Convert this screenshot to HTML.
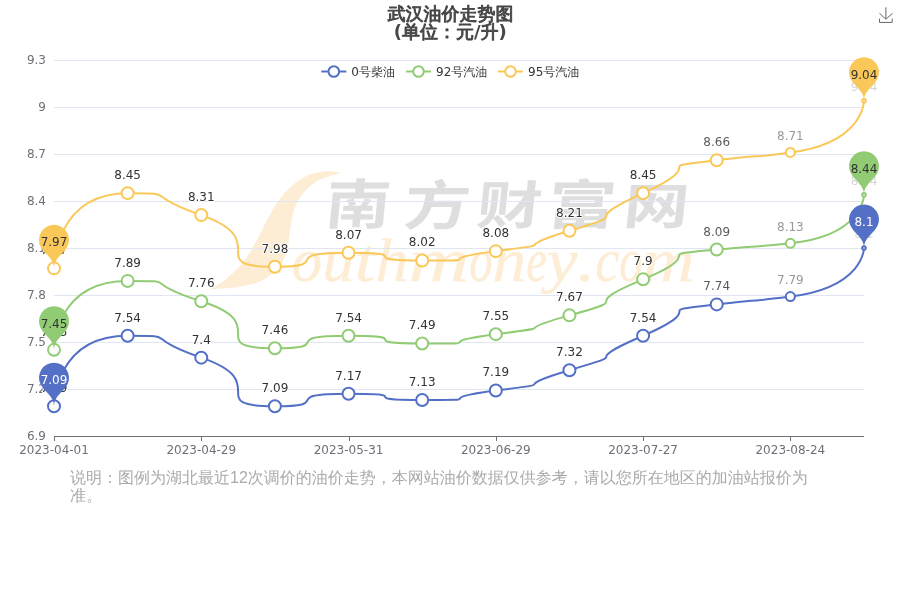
<!DOCTYPE html>
<html><head><meta charset="utf-8"><title>武汉油价走势图</title>
<style>html,body{margin:0;padding:0;background:#fff}body{width:900px;height:600px;overflow:hidden;position:relative}svg{display:block;position:absolute;left:0;top:0}text{font-family:"DejaVu Sans", "Liberation Sans", "WenQuanYi Zen Hei", "Noto Sans CJK SC", sans-serif;font-size:12px}.tt{font-size:18px;stroke:#464646;stroke-width:0.95px;stroke-linejoin:round}.tb{font-weight:bold;stroke:none}.wm1{font-family:"Liberation Serif","DejaVu Serif",serif;font-style:italic}.wm2{font-family:"Noto Sans CJK SC","WenQuanYi Zen Hei",sans-serif;font-weight:700}</style></head><body>
<svg width="900" height="600" viewBox="0 0 900 600">
<rect width="900" height="600" fill="#fff"/>
<g role="img" aria-label="Southmoney.com 南方财富网"><title>Southmoney.com 南方财富网</title>
<path d="M340.6 172.8C339 172.5 334.7 171.4 331.2 171.2C327.8 171.1 323.8 171.3 320 171.9C316.2 172.5 312.5 173.4 308.8 175C305 176.6 301 178.8 297.5 181.2C294 183.8 290.6 186.9 287.5 190C284.4 193.1 281.5 196.2 278.8 200C276 203.8 273.8 208.1 271.2 212.5C268.8 216.9 266.1 221.7 263.8 226.2C261.4 230.8 259.3 235.7 257 240C254.7 244.3 252.4 248.1 250 252C247.6 255.9 245.2 259.9 242.5 263.2C239.8 266.6 236.9 269.1 233.8 272C230.6 274.9 226.9 278.3 223.8 280.8C220.6 283.2 217.7 285 215 286.5C212.3 288 208.8 289 207.5 289.5C210.4 289.3 220 288.7 225 288.2C230 287.8 233.3 287.6 237.5 287C241.7 286.4 246.2 285.4 250 284.5C253.8 283.6 256.7 282.9 260 281.4C263.3 279.9 267.2 277.7 270 275.8C272.8 273.8 274.9 271.8 277 269.5C279.1 267.2 281 264.7 282.5 262C284 259.3 285.3 256.2 286.2 253.2C287.2 250.3 287.7 247.7 288.3 244.5C288.9 241.3 289.2 236.8 289.6 234C290 231.2 290.2 230.2 290.6 227.5C291 224.8 291.2 220.8 291.9 217.5C292.6 214.2 293.6 210.8 295 207.5C296.4 204.2 298.1 200.4 300 197.5C301.9 194.6 303.8 192.5 306.2 190C308.8 187.5 311.9 184.6 315 182.5C318.1 180.4 321.2 178.9 325 177.5C328.8 176.1 334.9 174.8 337.5 174C340.1 173.2 340.1 173 340.6 172.8Z" fill="#feedd5"/>
<text class="wm1" y="281.3" fill="#feedd5" stroke="#feedd5" stroke-width="0.35" style="font-size:62px"><tspan x="291.8" textLength="30.4" lengthAdjust="spacingAndGlyphs">o</tspan><tspan x="322.2" textLength="32.3" lengthAdjust="spacingAndGlyphs">u</tspan><tspan x="354.5" textLength="21" lengthAdjust="spacingAndGlyphs">t</tspan><tspan x="375.5" textLength="33" lengthAdjust="spacingAndGlyphs">h</tspan><tspan x="408.5" textLength="60.7" lengthAdjust="spacingAndGlyphs">m</tspan><tspan x="469.2" textLength="23.3" lengthAdjust="spacingAndGlyphs">o</tspan><tspan x="492.5" textLength="33.7" lengthAdjust="spacingAndGlyphs">n</tspan><tspan x="526.2" textLength="20.5" lengthAdjust="spacingAndGlyphs">e</tspan><tspan x="546.7" textLength="30.8" lengthAdjust="spacingAndGlyphs">y</tspan><tspan x="577.5" textLength="17.9" lengthAdjust="spacingAndGlyphs">.</tspan><tspan x="595.2" textLength="24.1" lengthAdjust="spacingAndGlyphs">c</tspan><tspan x="619.3" textLength="23.2" lengthAdjust="spacingAndGlyphs">o</tspan><tspan x="642.5" textLength="52" lengthAdjust="spacingAndGlyphs">m</tspan></text>
<text class="wm2" transform="matrix(1.255 0 -0.1004 1.042 323.7 223.8)" fill="#dfdede" style="font-size:52px">南</text>
<text class="wm2" transform="matrix(1.27 0 -0.1016 1.031 402.5 224.8)" fill="#dfdede" style="font-size:52px">方</text>
<text class="wm2" transform="matrix(1.253 0 -0.1002 0.99 475.2 223.5)" fill="#dfdede" style="font-size:52px">财</text>
<text class="wm2" transform="matrix(1.311 0 -0.1049 1.022 546.1 223.7)" fill="#dfdede" style="font-size:52px">富</text>
<text class="wm2" transform="matrix(1.255 0 -0.1004 0.944 622 223.7)" fill="#dfdede" style="font-size:52px">网</text>
</g>
<g stroke="#E0E6F1" stroke-width="1" shape-rendering="crispEdges">
<line x1="54" y1="60.5" x2="864" y2="60.5"/>
<line x1="54" y1="107.5" x2="864" y2="107.5"/>
<line x1="54" y1="154.5" x2="864" y2="154.5"/>
<line x1="54" y1="201.5" x2="864" y2="201.5"/>
<line x1="54" y1="248.5" x2="864" y2="248.5"/>
<line x1="54" y1="295.5" x2="864" y2="295.5"/>
<line x1="54" y1="342.5" x2="864" y2="342.5"/>
<line x1="54" y1="389.5" x2="864" y2="389.5"/>
</g>
<g stroke="#6E7079" stroke-width="1" shape-rendering="crispEdges">
<line x1="54" y1="436.5" x2="864" y2="436.5"/>
<line x1="54.5" y1="436" x2="54.5" y2="441"/>
<line x1="201.5" y1="436" x2="201.5" y2="441"/>
<line x1="349.5" y1="436" x2="349.5" y2="441"/>
<line x1="496.5" y1="436" x2="496.5" y2="441"/>
<line x1="643.5" y1="436" x2="643.5" y2="441"/>
<line x1="790.5" y1="436" x2="790.5" y2="441"/>
</g>
<g fill="#6E7079">
<text x="46" y="64.4" text-anchor="end">9.3</text>
<text x="46" y="111.4" text-anchor="end">9</text>
<text x="46" y="158.4" text-anchor="end">8.7</text>
<text x="46" y="205.4" text-anchor="end">8.4</text>
<text x="46" y="252.4" text-anchor="end">8.1</text>
<text x="46" y="299.4" text-anchor="end">7.8</text>
<text x="46" y="346.4" text-anchor="end">7.5</text>
<text x="46" y="393.4" text-anchor="end">7.2</text>
<text x="46" y="440.4" text-anchor="end">6.9</text>
<text x="54" y="454.2" text-anchor="middle">2023-04-01</text>
<text x="201.27" y="454.2" text-anchor="middle">2023-04-29</text>
<text x="348.55" y="454.2" text-anchor="middle">2023-05-31</text>
<text x="495.82" y="454.2" text-anchor="middle">2023-06-29</text>
<text x="643.09" y="454.2" text-anchor="middle">2023-07-27</text>
<text x="790.36" y="454.2" text-anchor="middle">2023-08-24</text>
</g>
<path d="M54 406.23C54 406.23 54 335.73 127.64 335.73C183.13 335.73 137.13 335.73 201.27 357.67C274.91 382.85 201.27 406.23 274.91 406.23C337.26 406.23 274.91 393.7 348.55 393.7C421.4 393.7 348.87 399.97 422.18 399.97C495.82 399.97 424.27 399.97 495.82 390.57C569.45 380.89 500.26 390.57 569.45 370.2C643.09 348.53 569.45 367.57 643.09 335.73C715.57 304.4 643.09 312.87 716.73 304.4C784.87 296.57 728.55 304.4 790.36 296.57C864 287.24 864 248 864 248" fill="none" stroke="#5470c6" stroke-width="2" stroke-linejoin="bevel"/>
<path d="M54 349.83C54 349.83 54 280.9 127.64 280.9C183.41 280.9 136.87 280.9 201.27 301.27C274.91 324.55 201.27 348.27 274.91 348.27C337.87 348.27 274.91 335.73 348.55 335.73C421.55 335.73 348.73 343.57 422.18 343.57C495.82 343.57 423.89 343.57 495.82 334.17C569.45 324.54 501.19 334.17 569.45 315.37C643.09 295.09 569.45 310.06 643.09 279.33C714.43 249.57 643.09 256.3 716.73 249.57C785.24 243.3 728.67 249.57 790.36 243.3C864 235.82 864 194.73 864 194.73" fill="none" stroke="#91cc75" stroke-width="2" stroke-linejoin="bevel"/>
<path d="M54 268.37C54 268.37 54 193.17 127.64 193.17C181.39 193.17 138.39 193.17 201.27 215.1C274.91 240.78 201.27 266.8 274.91 266.8C336.27 266.8 274.91 252.7 348.55 252.7C421.28 252.7 348.73 260.53 422.18 260.53C495.82 260.53 424.27 260.53 495.82 251.13C569.45 241.46 501.41 251.13 569.45 230.77C643.09 208.73 569.45 226.89 643.09 193.17C714.92 160.27 643.09 168.8 716.73 160.27C784.34 152.43 729.76 160.27 790.36 152.43C864 142.92 864 100.73 864 100.73" fill="none" stroke="#fac858" stroke-width="2" stroke-linejoin="bevel"/>
<g fill="#fff" stroke="#5470c6" stroke-width="2">
<circle cx="54" cy="406.23" r="6"/>
<circle cx="127.64" cy="335.73" r="6"/>
<circle cx="201.27" cy="357.67" r="6"/>
<circle cx="274.91" cy="406.23" r="6"/>
<circle cx="348.55" cy="393.7" r="6"/>
<circle cx="422.18" cy="399.97" r="6"/>
<circle cx="495.82" cy="390.57" r="6"/>
<circle cx="569.45" cy="370.2" r="6"/>
<circle cx="643.09" cy="335.73" r="6"/>
<circle cx="716.73" cy="304.4" r="6"/>
<circle cx="790.36" cy="296.57" r="4.53"/>
<circle cx="864" cy="248" r="1.8"/>
</g>
<g fill="#333" stroke="#fff" stroke-width="2" stroke-linejoin="round" paint-order="stroke" text-anchor="middle">
<text x="54" y="392">7.09</text>
<text x="127.64" y="322">7.54</text>
<text x="201.27" y="344">7.4</text>
<text x="274.91" y="392">7.09</text>
<text x="348.55" y="380">7.17</text>
<text x="422.18" y="386">7.13</text>
<text x="495.82" y="376">7.19</text>
<text x="569.45" y="356">7.32</text>
<text x="643.09" y="322">7.54</text>
<text x="716.73" y="290" opacity="0.807">7.74</text>
<text x="790.36" y="284" opacity="0.503">7.79</text>
<text x="864" y="238" opacity="0.2">8.1</text>
</g>
<g fill="#fff" stroke="#91cc75" stroke-width="2">
<circle cx="54" cy="349.83" r="6"/>
<circle cx="127.64" cy="280.9" r="6"/>
<circle cx="201.27" cy="301.27" r="6"/>
<circle cx="274.91" cy="348.27" r="6"/>
<circle cx="348.55" cy="335.73" r="6"/>
<circle cx="422.18" cy="343.57" r="6"/>
<circle cx="495.82" cy="334.17" r="6"/>
<circle cx="569.45" cy="315.37" r="6"/>
<circle cx="643.09" cy="279.33" r="6"/>
<circle cx="716.73" cy="249.57" r="6"/>
<circle cx="790.36" cy="243.3" r="4.53"/>
<circle cx="864" cy="194.73" r="1.8"/>
</g>
<g fill="#333" stroke="#fff" stroke-width="2" stroke-linejoin="round" paint-order="stroke" text-anchor="middle">
<text x="54" y="336">7.45</text>
<text x="127.64" y="267">7.89</text>
<text x="201.27" y="287">7.76</text>
<text x="274.91" y="334">7.46</text>
<text x="348.55" y="322">7.54</text>
<text x="422.18" y="329">7.49</text>
<text x="495.82" y="320">7.55</text>
<text x="569.45" y="301">7.67</text>
<text x="643.09" y="265">7.9</text>
<text x="716.73" y="236" opacity="0.807">8.09</text>
<text x="790.36" y="231" opacity="0.503">8.13</text>
<text x="864" y="185" opacity="0.2">8.44</text>
</g>
<g fill="#fff" stroke="#fac858" stroke-width="2">
<circle cx="54" cy="268.37" r="6"/>
<circle cx="127.64" cy="193.17" r="6"/>
<circle cx="201.27" cy="215.1" r="6"/>
<circle cx="274.91" cy="266.8" r="6"/>
<circle cx="348.55" cy="252.7" r="6"/>
<circle cx="422.18" cy="260.53" r="6"/>
<circle cx="495.82" cy="251.13" r="6"/>
<circle cx="569.45" cy="230.77" r="6"/>
<circle cx="643.09" cy="193.17" r="6"/>
<circle cx="716.73" cy="160.27" r="6"/>
<circle cx="790.36" cy="152.43" r="4.53"/>
<circle cx="864" cy="100.73" r="1.8"/>
</g>
<g fill="#333" stroke="#fff" stroke-width="2" stroke-linejoin="round" paint-order="stroke" text-anchor="middle">
<text x="54" y="254">7.97</text>
<text x="127.64" y="179">8.45</text>
<text x="201.27" y="201">8.31</text>
<text x="274.91" y="253">7.98</text>
<text x="348.55" y="239">8.07</text>
<text x="422.18" y="246">8.02</text>
<text x="495.82" y="237">8.08</text>
<text x="569.45" y="217">8.21</text>
<text x="643.09" y="179">8.45</text>
<text x="716.73" y="146" opacity="0.807">8.66</text>
<text x="790.36" y="140" opacity="0.503">8.71</text>
<text x="864" y="91" opacity="0.2">9.04</text>
</g>
<path d="M40.45 384.09A15 15 0 1 1 67.55 384.09C63.7 392.22 54 395.73 54 406.23C54 395.73 44.3 392.22 40.45 384.09Z" fill="#5470c6"/>
<text x="54" y="384" text-anchor="middle" fill="#fff">7.09</text>
<path d="M850.45 225.86A15 15 0 1 1 877.55 225.86C873.7 233.99 864 237.5 864 248C864 237.5 854.3 233.99 850.45 225.86Z" fill="#5470c6"/>
<text x="864" y="226" text-anchor="middle" fill="#fff">8.1</text>
<path d="M40.45 327.69A15 15 0 1 1 67.55 327.69C63.7 335.82 54 339.33 54 349.83C54 339.33 44.3 335.82 40.45 327.69Z" fill="#91cc75"/>
<text x="54" y="328" text-anchor="middle" fill="#333">7.45</text>
<path d="M850.45 172.59A15 15 0 1 1 877.55 172.59C873.7 180.72 864 184.23 864 194.73C864 184.23 854.3 180.72 850.45 172.59Z" fill="#91cc75"/>
<text x="864" y="173" text-anchor="middle" fill="#333">8.44</text>
<path d="M40.45 246.22A15 15 0 1 1 67.55 246.22C63.7 254.36 54 257.87 54 268.37C54 257.87 44.3 254.36 40.45 246.22Z" fill="#fac858"/>
<text x="54" y="246" text-anchor="middle" fill="#333">7.97</text>
<path d="M850.45 78.59A15 15 0 1 1 877.55 78.59C873.7 86.72 864 90.23 864 100.73C864 90.23 854.3 86.72 850.45 78.59Z" fill="#fac858"/>
<text x="864" y="79" text-anchor="middle" fill="#333">9.04</text>
<line x1="321.3" y1="71.5" x2="346.3" y2="71.5" stroke="#5470c6" stroke-width="2"/>
<circle cx="333.8" cy="71.5" r="5.3" fill="#fff" stroke="#5470c6" stroke-width="2"/>
<text x="351.3" y="76.3" fill="#333">0号柴油</text>
<line x1="406" y1="71.5" x2="431" y2="71.5" stroke="#91cc75" stroke-width="2"/>
<circle cx="418.5" cy="71.5" r="5.3" fill="#fff" stroke="#91cc75" stroke-width="2"/>
<text x="436" y="76.3" fill="#333">92号汽油</text>
<line x1="498" y1="71.5" x2="523" y2="71.5" stroke="#fac858" stroke-width="2"/>
<circle cx="510.5" cy="71.5" r="5.3" fill="#fff" stroke="#fac858" stroke-width="2"/>
<text x="528" y="76.3" fill="#333">95号汽油</text>
<g fill="#464646" text-anchor="middle">
<text x="450.5" y="19.8" class="tt">武汉油价走势图</text>
<text x="450.3" y="38.2" class="tt"><tspan class="tb">(</tspan>单位：元<tspan class="tb">/</tspan>升<tspan class="tb">)</tspan></text>
</g>
<path d="M879.5 13.3L885.9 19.2L892.5 13.4M879.5 18.7L879.5 22.4L892.2 22.4L892.2 18.7M885.9 19.1L885.9 7.4" fill="none" stroke="#666" stroke-width="1"/>
<g fill="#aaa" style="font-family:&quot;Liberation Sans&quot;,&quot;WenQuanYi Zen Hei&quot;,&quot;Noto Sans CJK SC&quot;,sans-serif">
<text x="70" y="483" style="font-size:16px;font-family:inherit">说明：图例为湖北最近12次调价的油价走势，本网站油价数据仅供参考，请以您所在地区的加油站报价为</text>
<text x="70" y="501" style="font-size:16px;font-family:inherit">准。</text>
</g>
</svg></body></html>
